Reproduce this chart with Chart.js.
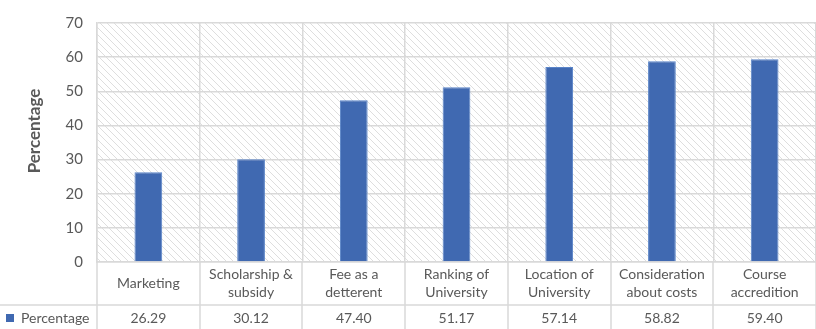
<!DOCTYPE html>
<html>
<head>
<meta charset="utf-8">
<script src="https://cdn.jsdelivr.net/npm/chart.js@4.4.1/dist/chart.umd.min.js"></script>
<style>
  html, body { margin: 0; padding: 0; background: #fff; }
  #wrap { width: 816px; height: 329px; }
</style>
</head>
<body>
<div id="wrap"><canvas id="chart"></canvas></div>
<script>
const categories = [
  ['Marketing'],
  ['Scholarship &', 'subsidy'],
  ['Fee as a', 'detterent'],
  ['Ranking of', 'University'],
  ['Location of', 'University'],
  ['Consideration', 'about costs'],
  ['Course', 'accredition'],
];
const seriesName = 'Percentage';
const percentages = [26.29, 30.12, 47.40, 51.17, 57.14, 58.82, 59.40];
const yMin = 0;
const yMax = 70;
const yStep = 10;

const GRID = '#d9d9d9';
const TEXT = '#595959';
const BAR = '#4069b1';
const FONT = 'Lato, "Open Sans", sans-serif';

function makeHatch() {
  const s = 7;
  const tile = document.createElement('canvas');
  tile.width = s;
  tile.height = s;
  const g = tile.getContext('2d');
  g.strokeStyle = '#dedede';
  g.lineWidth = 1;
  [-s, 0, s].forEach((k) => {
    g.beginPath();
    g.moveTo(k - 1, -1);
    g.lineTo(k + s + 1, s + 1);
    g.stroke();
  });
  return g.createPattern(tile, 'repeat');
}

// hatched plot background
const hatchBackground = {
  id: 'hatchBackground',
  beforeDraw(chart) {
    const { ctx, chartArea: a } = chart;
    ctx.save();
    ctx.fillStyle = makeHatch();
    ctx.fillRect(a.left, a.top, a.right - a.left, a.bottom - a.top);
    ctx.restore();
  },
};

// category row, data table and axis title
const dataTable = {
  id: 'dataTable',
  afterDraw(chart) {
    const { ctx, chartArea: a, scales } = chart;
    const x = scales.x;
    const rowSplit = 305;
    const bottom = chart.height;
    const half = (x.getPixelForValue(1) - x.getPixelForValue(0)) / 2;

    ctx.save();
    ctx.strokeStyle = GRID;
    ctx.lineWidth = 1.5;
    ctx.beginPath();
    ctx.moveTo(a.left, a.bottom);
    ctx.lineTo(a.left, bottom);
    for (let i = 0; i < categories.length; i++) {
      const edge = Math.round(x.getPixelForValue(i) + half);
      ctx.moveTo(edge, a.bottom);
      ctx.lineTo(edge, bottom);
    }
    ctx.moveTo(0, rowSplit);
    ctx.lineTo(chart.width, rowSplit);
    ctx.stroke();

    ctx.fillStyle = TEXT;
    ctx.font = '14px ' + FONT;
    ctx.textAlign = 'center';
    ctx.textBaseline = 'middle';
    const labelMid = (a.bottom + rowSplit) / 2;
    const lineH = 18;
    categories.forEach((lines, i) => {
      const cx = x.getPixelForValue(i);
      const y0 = labelMid - ((lines.length - 1) * lineH) / 2;
      lines.forEach((line, j) => ctx.fillText(line, cx, y0 + j * lineH));
    });

    const valueMid = (rowSplit + bottom) / 2 + 1;
    percentages.forEach((v, i) => {
      ctx.fillText(v.toFixed(2), x.getPixelForValue(i), valueMid);
    });

    ctx.fillStyle = BAR;
    ctx.fillRect(6, valueMid - 4, 8, 8);
    ctx.fillStyle = TEXT;
    ctx.textAlign = 'left';
    ctx.fillText(seriesName, 21, valueMid);

    ctx.translate(35, 131);
    ctx.rotate(-Math.PI / 2);
    ctx.textAlign = 'center';
    ctx.font = 'bold 17px ' + FONT;
    ctx.fillText(seriesName, 0, 0);
    ctx.restore();
  },
};

new Chart(document.getElementById('chart'), {
  type: 'bar',
  data: {
    labels: categories,
    datasets: [{
      label: seriesName,
      data: percentages,
      backgroundColor: BAR,
      borderColor: '#5a84c8',
      borderWidth: 1,
      categoryPercentage: 1,
      barPercentage: 0.27,
    }],
  },
  options: {
    responsive: true,
    maintainAspectRatio: false,
    animation: false,
    layout: { padding: { top: 12, right: 0, bottom: 24, left: 0 } },
    plugins: {
      legend: { display: false },
      tooltip: { enabled: false },
    },
    scales: {
      x: {
        ticks: { display: false },
        grid: { color: GRID, lineWidth: 1.5, drawTicks: false, offset: true },
        border: { color: GRID, width: 1.5 },
        afterFit(scale) { scale.height = 43; },
      },
      y: {
        min: yMin,
        max: yMax,
        ticks: {
          stepSize: yStep,
          color: TEXT,
          padding: 14,
          font: { family: FONT, size: 15 },
        },
        grid: { color: GRID, lineWidth: 1.5, drawTicks: false },
        border: { color: GRID, width: 1.5 },
        afterFit(scale) { scale.width = 97; },
      },
    },
  },
  plugins: [hatchBackground, dataTable],
});
</script>
</body>
</html>
